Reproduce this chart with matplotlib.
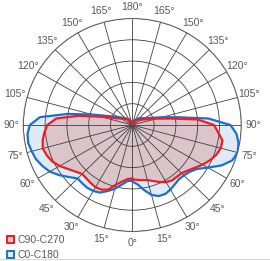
import numpy as np
import matplotlib
matplotlib.use('Agg')
import matplotlib.pyplot as plt
from matplotlib.patches import Patch

plt.rcParams['font.family'] = ['Liberation Sans', 'DejaVu Sans']

# gamma angles (deg) and relative intensity
gamma = [0, 5, 10, 15, 20, 25, 30, 35, 40, 45, 50, 55, 60, 65, 70, 75, 80, 85,
         90, 95, 100, 105, 110, 120, 135, 150, 165, 180]

# C0-C180 plane (blue)
c0 = [0.53, 0.56, 0.62, 0.68, 0.71, 0.715, 0.70, 0.68, 0.665, 0.67, 0.685, 0.72,
      0.80, 0.90, 0.975, 1.0, 0.99, 0.96, 0.90, 0.70, 0.42, 0.28, 0.20, 0.13,
      0.09, 0.06, 0.03, 0.0]
c180 = [0.52, 0.53, 0.57, 0.62, 0.66, 0.70, 0.715, 0.72, 0.715, 0.71, 0.76, 0.82,
        0.875, 0.91, 0.94, 0.955, 0.97, 0.965, 0.94, 0.85, 0.60, 0.38, 0.25, 0.15,
        0.09, 0.06, 0.03, 0.0]

# C90-C270 plane (red)
c90 = [0.51, 0.518, 0.525, 0.535, 0.56, 0.59, 0.62, 0.635, 0.635, 0.64, 0.665, 0.70,
       0.745, 0.785, 0.82, 0.84, 0.84, 0.79, 0.75, 0.60, 0.35, 0.23, 0.16, 0.10,
       0.07, 0.05, 0.03, 0.0]
c270 = [0.50, 0.51, 0.54, 0.58, 0.645, 0.67, 0.675, 0.665, 0.655, 0.65, 0.68, 0.72,
        0.77, 0.81, 0.835, 0.85, 0.835, 0.81, 0.78, 0.70, 0.50, 0.30, 0.20, 0.12,
        0.08, 0.06, 0.03, 0.0]

label_angles = list(range(0, 181, 15))

blue_line = '#1f6fc8'
blue_fill = '#deebf7'
red_line = '#f01c24'
red_fill = '#dcc4cb'


def closed_curve(right, left):
    g = np.radians(gamma)
    th = np.concatenate([g, 2 * np.pi - g[::-1]])
    r = np.concatenate([right, left[::-1]])
    return th, r


fig = plt.figure(figsize=(2.70, 2.61), dpi=100)
ax = fig.add_axes([23.3 / 270, 29.5 / 261, 218 / 270, 213 / 261], projection='polar')
ax.set_aspect('auto')
ax.set_theta_zero_location('S')
ax.set_theta_direction(1)
ax.set_ylim(0, 1)

th_b, r_b = closed_curve(c0, c180)
th_r, r_r = closed_curve(c90, c270)
ax.fill(th_b, r_b, color=blue_fill, zorder=0.5)
ax.fill(th_r, r_r, color=red_fill, zorder=0.6)
ax.plot(th_b, r_b, color=blue_line, lw=1.6, zorder=3)
ax.plot(th_r, r_r, color=red_line, lw=1.6, zorder=3.1)

ax.set_axisbelow(False)
ax.set_xticks(np.radians(np.arange(0, 360, 15)))
ax.set_xticklabels([])
ax.set_yticks([0.2, 0.4, 0.6, 0.8, 1.0])
ax.set_yticklabels([])
ax.grid(True, color='#404040', lw=0.6)
ax.spines['polar'].set_color('#808080')
ax.spines['polar'].set_linewidth(0.8)
ax.tick_params(length=0)

for a in label_angles:
    for t in {a, 360 - a} if a not in (0, 180) else {a}:
        ax.text(np.radians(t), 1.11, f'{a}°', ha='center', va='center',
                fontsize=7.5, color='#595959', clip_on=False)

handles = [Patch(facecolor=red_fill, edgecolor=red_line, lw=1.4),
           Patch(facecolor=blue_fill, edgecolor=blue_line, lw=1.4)]
fig.legend(handles, ['C90-C270', 'C0-C180'], loc='lower left',
           bbox_to_anchor=(0.022, 0.0), frameon=False, fontsize=7.5,
           handlelength=0.65, handleheight=0.65, handletextpad=0.35,
           labelspacing=0.45, borderaxespad=0.0, borderpad=0.1,
           labelcolor='#595959')

fig.add_artist(plt.Line2D([0, 1], [2.5 / 261, 2.5 / 261], color='#d9d9d9', lw=0.8))

fig.savefig('out.png', dpi=100)
